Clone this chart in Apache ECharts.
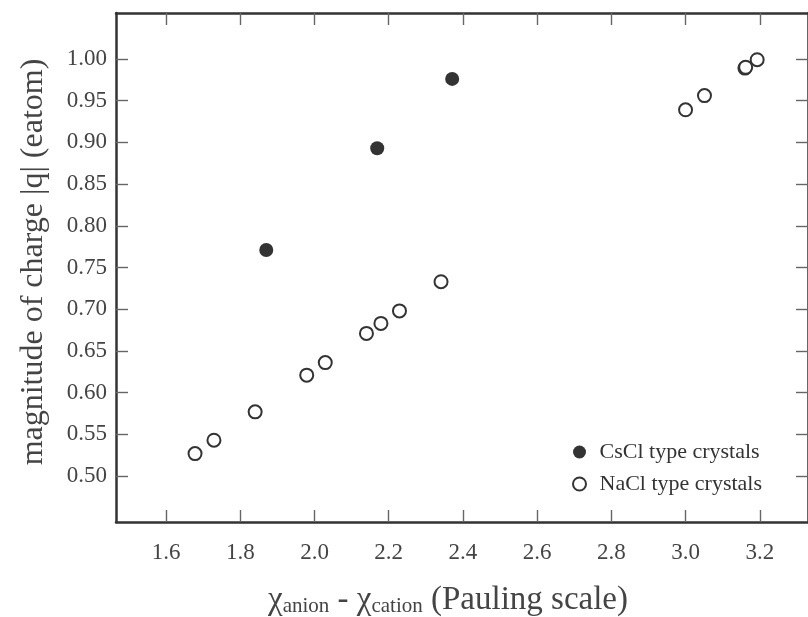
<!DOCTYPE html>
<html>
<head>
<meta charset="utf-8">
<script src="https://cdn.jsdelivr.net/npm/echarts@6/dist/echarts.min.js"></script>
<style>html,body{margin:0;padding:0;background:#fff;}#chart{width:808px;height:617px;}</style>
</head>
<body>
<div id="chart"></div>
<script>
// Data
const csclX = [1.870, 2.169, 2.371];
const csclY = [0.771, 0.893, 0.976];
const naclX = [1.678, 1.729, 1.840, 1.979, 2.029, 2.140, 2.179, 2.229, 2.341, 3.000, 3.051, 3.160, 3.162, 3.193];
const naclY = [0.527, 0.543, 0.577, 0.621, 0.636, 0.671, 0.683, 0.698, 0.733, 0.939, 0.956, 0.989, 0.990, 0.999];
const xTicks = [1.6, 1.8, 2.0, 2.2, 2.4, 2.6, 2.8, 3.0, 3.2];
const yTicks = [0.50, 0.55, 0.60, 0.65, 0.70, 0.75, 0.80, 0.85, 0.90, 0.95, 1.00];

const FONT = '"Liberation Serif", "DejaVu Serif", serif';
const chart = echarts.init(document.getElementById('chart'), null, {renderer: 'canvas'});
const axisLine = {show: true, lineStyle: {color: '#333', width: 2.5}};
const tickStyle = {color: '#666', width: 1.4};

function xAxis(pos, showLabel) {
  return {
    type: 'value', position: pos, min: 1.465, max: 3.33,
    axisLine: axisLine,
    axisTick: {show: true, inside: true, length: 12, lineStyle: tickStyle, customValues: xTicks},
    axisLabel: {show: showLabel, customValues: xTicks, margin: 19, fontSize: 23, fontFamily: FONT, color: '#444',
      formatter: v => v.toFixed(1)},
    splitLine: {show: false}
  };
}
function yAxis(pos, showLabel) {
  return {
    type: 'value', position: pos, min: 0.445, max: 1.055,
    axisLine: axisLine,
    axisTick: {show: true, inside: true, length: 12, lineStyle: tickStyle, customValues: yTicks},
    axisLabel: {show: showLabel, customValues: yTicks, margin: 9, fontSize: 23, fontFamily: FONT, color: '#444',
      formatter: v => v.toFixed(2)},
    splitLine: {show: false}
  };
}

chart.setOption({
  animation: false,
  backgroundColor: '#fff',
  grid: {left: 116, right: -9, top: 13, bottom: 95},
  xAxis: [xAxis('bottom', true), xAxis('top', false)],
  yAxis: [yAxis('left', true), yAxis('right', false)],
  legend: {
    orient: 'vertical', left: 567, top: 436, itemWidth: 30, itemHeight: 13, itemGap: 10,
    textStyle: {fontSize: 22, fontFamily: FONT, color: '#333', lineHeight: 22},
    data: ['CsCl type crystals', 'NaCl type crystals']
  },
  series: [
    {name: 'CsCl type crystals', type: 'scatter', symbol: 'circle', symbolSize: 14,
      itemStyle: {color: '#333', opacity: 1},
      data: csclX.map((x, i) => [x, csclY[i]])},
    {name: 'NaCl type crystals', type: 'scatter', symbol: 'circle', symbolSize: 13,
      itemStyle: {color: '#fff', borderColor: '#333', borderWidth: 2, opacity: 1},
      data: naclX.map((x, i) => [x, naclY[i]])}
  ],
  graphic: [
    {type: 'text', x: 34, y: 262, rotation: Math.PI / 2,
      style: {text: 'magnitude of charge |q| (eatom)', font: '32px ' + FONT, fill: '#444',
        align: 'center', verticalAlign: 'middle'}},
    {type: 'text', x: 448, y: 598,
      style: {text: '{c|χ}{s|anion}{n| - }{c|χ}{s|cation}{n| (Pauling scale)}', fill: '#444',
        align: 'center', verticalAlign: 'middle',
        rich: {
          c: {fontSize: 33, fontFamily: FONT, lineHeight: 38, verticalAlign: 'bottom', fill: '#444'},
          s: {fontSize: 21, fontFamily: FONT, lineHeight: 15, verticalAlign: 'bottom', fill: '#444'},
          n: {fontSize: 33, fontFamily: FONT, lineHeight: 38, verticalAlign: 'bottom', fill: '#444'}
        }}}
  ]
});
</script>
</body>
</html>
